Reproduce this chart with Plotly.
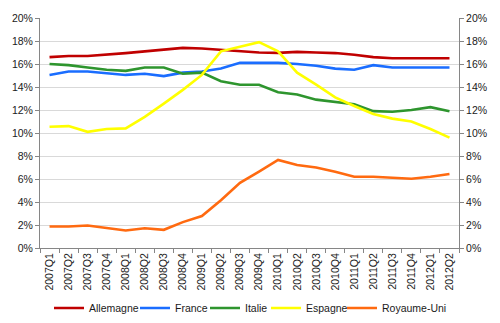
import plotly.graph_objects as go

quarters = ["2007Q1","2007Q2","2007Q3","2007Q4","2008Q1","2008Q2","2008Q3","2008Q4",
            "2009Q1","2009Q2","2009Q3","2009Q4","2010Q1","2010Q2","2010Q3","2010Q4",
            "2011Q1","2011Q2","2011Q3","2011Q4","2012Q1","2012Q2"]

allemagne = [16.6,16.7,16.7,16.8,16.95,17.1,17.25,17.4,17.35,17.25,17.15,17.0,16.97,17.05,17.0,16.95,16.8,16.6,16.5,16.5,16.5,16.5]
france    = [15.05,15.35,15.35,15.2,15.05,15.15,14.95,15.25,15.35,15.6,16.1,16.1,16.1,16.0,15.85,15.6,15.5,15.9,15.7,15.7,15.7,15.7]
italie    = [16.0,15.9,15.7,15.5,15.4,15.7,15.7,15.15,15.25,14.5,14.2,14.2,13.55,13.35,12.9,12.7,12.5,11.9,11.85,12.0,12.25,11.9]
espagne   = [10.55,10.6,10.1,10.35,10.4,11.4,12.55,13.75,15.05,17.1,17.5,17.9,17.1,15.25,14.2,13.1,12.35,11.65,11.25,11.0,10.35,9.6]
royaume_uni = [1.87,1.87,1.96,1.72,1.52,1.72,1.58,2.25,2.78,4.15,5.67,6.65,7.66,7.22,7.0,6.64,6.2,6.2,6.1,6.02,6.2,6.43]

series_names = ["Allemagne", "France", "Italie", "Espagne", "Royaume-Uni"]
series_values = [allemagne, france, italie, espagne, royaume_uni]
series_colors = ["#c00000", "#1a6dff", "#2e952e", "#ffff00", "#ff6a10"]

y_ticks = [0, 2, 4, 6, 8, 10, 12, 14, 16, 18, 20]
y_labels = [f"{v}%" for v in y_ticks]

# legend layout (pixel start of each legend line sample)
legend_px = [54, 140, 210, 271, 347]

W, H = 500, 323
ML, MR, MT, MB = 40, 41, 18, 75
PW = W - ML - MR
PH = H - MT - MB

fig = go.Figure()
legend_layouts = {}
font = dict(family="Liberation Sans, Arial, sans-serif", size=10.5, color="#1a1a1a")
for i, (name, vals, col) in enumerate(zip(series_names, series_values, series_colors)):
    key = "legend" if i == 0 else f"legend{i+1}"
    fig.add_trace(go.Scatter(x=quarters, y=vals, name=name, mode="lines",
                             line=dict(color=col, width=2.6), legend=key))
    legend_layouts[key] = dict(
        x=(legend_px[i] - ML - 5) / PW, xanchor="left",
        y=-(308 - (MT + PH)) / PH, yanchor="middle",
        orientation="h", font=font, bgcolor="rgba(0,0,0,0)",
        borderwidth=0, itemwidth=30,
    )

# invisible trace to carry the right-hand axis
fig.add_trace(go.Scatter(x=quarters, y=allemagne, yaxis="y2", mode="lines",
                         line=dict(width=0), opacity=0, showlegend=False, hoverinfo="skip"))

common_y = dict(range=[0, 20], tickvals=y_ticks, ticktext=y_labels,
                showline=True, linecolor="#868686", linewidth=1,
                ticks="outside", ticklen=4, tickcolor="#868686",
                tickfont=font, zeroline=False)

fig.update_layout(
    width=W, height=H,
    margin=dict(l=ML, r=MR, t=MT, b=MB, autoexpand=False),
    paper_bgcolor="white", plot_bgcolor="white",
    font=font,
    xaxis=dict(type="category", range=[-0.5, 21.5], tickangle=-90,
               showline=True, linecolor="#868686", linewidth=1,
               ticks="outside", tickson="boundaries", ticklen=4, tickcolor="#868686",
               showgrid=False, tickfont=font, automargin=False),
    yaxis=dict(**common_y, showgrid=True, gridcolor="#d9d9d9", gridwidth=1, automargin=False),
    yaxis2=dict(**common_y, overlaying="y", side="right", showgrid=False, automargin=False),
    showlegend=True,
    **legend_layouts,
)

fig.write_html("out.html")
